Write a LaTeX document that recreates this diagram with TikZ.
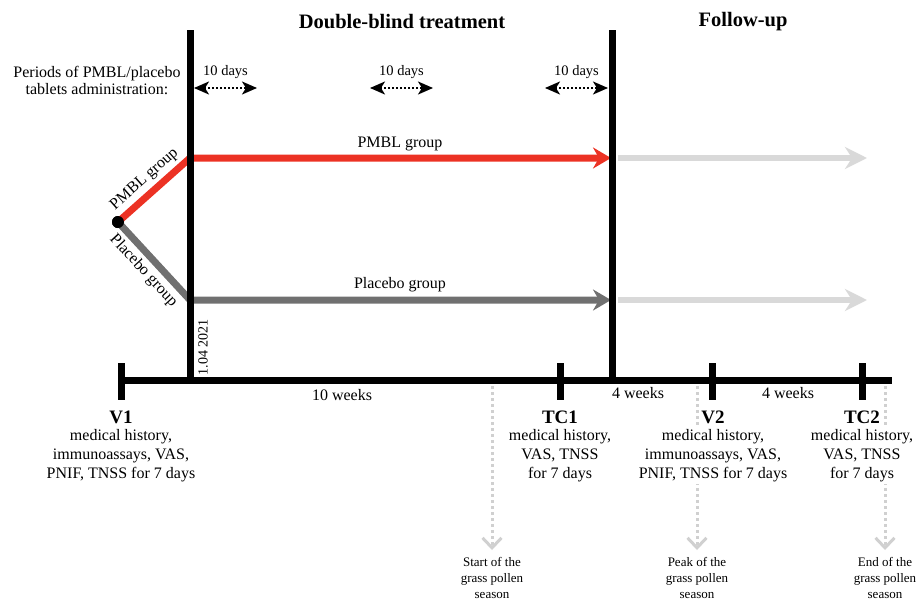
\documentclass[tikz,border=0pt]{standalone}
\usepackage{fontspec}
\setmainfont{Liberation Serif}
\usetikzlibrary{arrows.meta,positioning}
\definecolor{pmblred}{RGB}{236,50,36}
\definecolor{placgrey}{RGB}{112,112,112}
\definecolor{fupgrey}{RGB}{217,217,217}
\definecolor{seasgrey}{RGB}{208,208,208}

\begin{document}
\begin{tikzpicture}[x=1pt,y=-1pt,
  every node/.style={font=\fontsize{16}{19}\selectfont,inner sep=1pt},
  hdr/.style={font=\fontsize{20.5}{24}\selectfont\bfseries},
  visit/.style={font=\fontsize{19}{22}\selectfont\bfseries},
  info/.style={fill=white,align=center,inner sep=2pt},
  small/.style={font=\fontsize{13}{16}\selectfont,align=center},
  bar/.style={line width=7pt},
  grp/.style={line width=7pt,line join=round,-{Stealth[length=18pt,width=21pt,inset=6pt]}},
  follow/.style={line width=6pt,fupgrey,-{Stealth[length=22pt,width=22pt,inset=7pt]}},
  days/.style={line width=2pt,dash pattern=on 2pt off 2pt,
               {Stealth[length=15pt,width=13pt,inset=4pt]}-{Stealth[length=15pt,width=13pt,inset=4pt]}},
  % the season arrows run behind the visit texts, so those texts are drawn last on white
  pollen/.style={seasgrey,line width=3pt,dash pattern=on 3pt off 3pt,shorten >=6pt,
                 -{Straight Barb[length=10pt,width=19pt]}}]
\useasboundingbox (0,0) rectangle (916,603);

\node[hdr] (dbt) at (402,22) {Double-blind treatment};
\node[hdr] (fup) at (743,22) {Follow-up};
\node[align=center,font=\fontsize{16}{17}\selectfont] (per) at (97,80) {Periods of PMBL/placebo\\tablets administration:};

\coordinate (top0) at (190,30);  \coordinate (bot0) at (190,380);
\coordinate (top1) at (612,30);  \coordinate (bot1) at (612,380);
\coordinate (v1) at (121,380);   \coordinate (tc1) at (560,380);
\coordinate (v2) at (712,380);   \coordinate (tc2) at (862,380);
\coordinate (tend) at (892,380);
\coordinate (pm) at (190,158);   \coordinate (pmend) at (611,158);
\coordinate (pl) at (190,300);   \coordinate (plend) at (611,300);
\coordinate (pmf) at (618,158);  \coordinate (pmfend) at (867,158);
\coordinate (plf) at (618,300);  \coordinate (plfend) at (867,300);
\node[circle,fill,minimum size=12pt,inner sep=0pt] (split) at (118,222) {};

\draw[grp,pmblred] (split.center) -- (pm) -- (pmend);
\draw[grp,placgrey] (split.center) -- (pl) -- (plend);
\node[circle,fill,minimum size=12pt,inner sep=0pt] at (split) {};
\path (split.center) -- node[sloped,above=6pt,pos=0.5] (lpm) {PMBL group} (pm);
\path (split.center) -- node[sloped,below=6pt,pos=0.5] (lpl) {Placebo group} (pl);

\draw[bar] (top0) -- (bot0);
\draw[bar] (top1) -- (bot1);
\draw[follow] (pmf) -- (pmfend);
\draw[follow] (plf) -- (plfend);

\node (gpm) at (400,144) {PMBL group};
\node (gpl) at (400,285) {Placebo group};
\node[rotate=90,font=\fontsize{14}{16}\selectfont] (date) at (203,347) {1.04 2021};

\foreach \n/\a/\b in {d1/194/257, d2/370/433, d3/545/608} {
  \node[font=\fontsize{14.5}{16}\selectfont] (\n) at ({(\a+\b)/2},72) {10 days};
  \coordinate (\n a) at (\a,88);
  \coordinate (\n b) at (\b,88);
  \draw[days] (\n a) -- (\n b);
}

\draw[bar] (v1) -- (tend);
\foreach \t in {v1,tc1,v2,tc2} \draw[bar] ([yshift=17pt]\t) -- ([yshift=-20pt]\t);

\node (w10) at (342,395) {10 weeks};
\node (w4a) at (638,393) {4 weeks};
\node (w4b) at (788,393) {4 weeks};

\node[small,anchor=north] (sst) at (492,556) {Start of the\\grass pollen\\season};
\node[small,anchor=north] (spk) at (697,556) {Peak of the\\grass pollen\\season};
\node[small,anchor=north] (sen) at (885,556) {End of the\\grass pollen\\season};
\coordinate (ps1) at (492,386);
\coordinate (ps2) at (697,386);
\coordinate (ps3) at (885,386);
\draw[pollen] (ps1) -- (ps1 |- sst.north);
\draw[pollen] (ps2) -- (ps2 |- spk.north);
\draw[pollen] (ps3) -- (ps3 |- sen.north);

\node[visit] (lv1) at (121,417) {V1};
\node[info,below=3pt of lv1] (iv1) {medical history,\\immunoassays, VAS,\\PNIF, TNSS for 7 days};
\node[visit] (ltc1) at (560,417) {TC1};
\node[info,below=3pt of ltc1] (itc1) {medical history,\\VAS, TNSS\\for 7 days};
\node[visit] (lv2) at (713,417) {V2};
\node[info,below=3pt of lv2] (iv2) {medical history,\\immunoassays, VAS,\\PNIF, TNSS for 7 days};
\node[visit] (ltc2) at (862,417) {TC2};
\node[info,below=3pt of ltc2] (itc2) {medical history,\\VAS, TNSS\\for 7 days};
\end{tikzpicture}
\end{document}
